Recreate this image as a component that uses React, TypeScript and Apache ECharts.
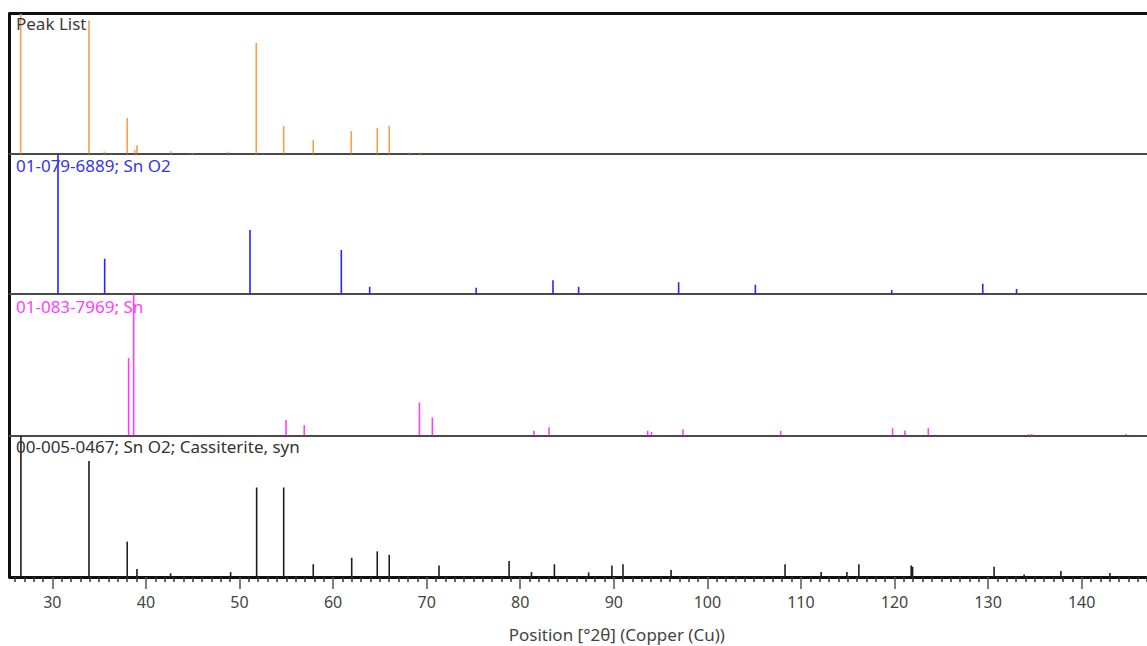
import React, { useEffect, useRef } from "react";
import * as echarts from "echarts";

const X_MIN = 25.44;
const X_MAX = 155.2;

const majorTicks = [30, 40, 50, 60, 70, 80, 90, 100, 110, 120, 130, 140];
const minorTicks: number[] = [];
for (let v = 26; v <= 155; v++) if (v % 10 !== 0) minorTicks.push(v);

const panelLabels = [
  "Peak List",
  "01-079-6889; Sn O2",
  "01-083-7969; Sn",
  "00-005-0467; Sn O2; Cassiterite, syn",
];

const peakPos = [26.61, 33.91, 35.55, 38.0, 38.8, 39.04, 42.64, 44.95, 48.8, 51.79, 54.72, 57.88, 61.94, 64.72, 66.0, 68.16, 69.34];
const peakInt = [100, 95, 1.5, 25.5, 2.6, 6, 1.8, 0.7, 1.4, 79, 19.8, 9.8, 16.2, 18.5, 20, 0.8, 0.8];

const sno2Pos = [30.6, 35.59, 51.12, 60.88, 63.91, 75.29, 83.5, 86.24, 96.93, 105.13, 119.7, 129.43, 133.04];
const sno2Int = [100, 25.3, 45.7, 31.5, 5.3, 4.6, 10, 5.3, 8.5, 6.8, 3, 7.5, 3.7];

const snPos = [38.15, 38.69, 54.97, 56.92, 69.23, 70.61, 81.46, 83.08, 93.62, 94.03, 97.39, 107.83, 119.79, 121.11, 123.61, 134.36, 134.66, 144.74];
const snInt = [54.9, 100, 11, 7.3, 23.4, 12.7, 3.3, 5.9, 3.3, 2.5, 4.2, 3.3, 5.2, 3.5, 5.2, 0.8, 1, 1];

const cassPos = [26.64, 33.91, 38.0, 39.04, 42.64, 49.05, 51.83, 54.72, 57.88, 61.99, 64.72, 66.0, 71.32, 78.81, 81.2, 83.65, 87.31, 89.8, 90.98, 96.12, 108.3, 112.16, 114.91, 116.19, 121.78, 121.93, 130.64, 133.85, 137.78, 143.02];
const cassInt = [100, 82, 25, 5.6, 2.6, 3.5, 63.3, 63.3, 9, 13.6, 18.1, 15.7, 8.2, 11.3, 3.5, 9, 3.3, 8.2, 9, 4.9, 9, 3.5, 3.5, 9, 8.2, 7.2, 7.2, 1.7, 4.2, 2.8];

const panels = [
  { pos: peakPos, val: peakInt, color: "#f5a04c", label: "#3a3a3a" },
  { pos: sno2Pos, val: sno2Int, color: "#2626ff", label: "#3434f0" },
  { pos: snPos, val: snInt, color: "#ff3dff", label: "#ff3dff" },
  { pos: cassPos, val: cassInt, color: "#1e1e1e", label: "#333333" },
];

const gridTops = [13.5, 153.7, 294.2, 435.5];
const gridHeights = [140.2, 140.5, 141.3, 141.5];
const GRID_LEFT = 9.7;
const GRID_WIDTH = 1214.2;
const FONT = '"Noto Sans", "Open Sans", sans-serif';

export default function App() {
  const ref = useRef<HTMLDivElement>(null);
  useEffect(() => {
    if (!ref.current) return;
    const chart = echarts.init(ref.current, undefined, { renderer: "svg" });

    const grids = gridTops.map((t, i) => ({
      left: GRID_LEFT,
      top: t,
      width: GRID_WIDTH,
      height: gridHeights[i],
      containLabel: false,
    }));

    const xAxes: any[] = panels.map((_, i) => ({
      type: "value",
      gridIndex: i,
      min: X_MIN,
      max: X_MAX,
      position: "bottom",
      axisLine: {
        show: true,
        lineStyle: i === 3 ? { color: "#111", width: 3 } : { color: "#4a4a4a", width: 2 },
      },
      axisTick: i === 3
        ? { show: true, customValues: majorTicks, length: 12, lineStyle: { color: "#555", width: 1.5 } }
        : { show: false },
      axisLabel: i === 3
        ? { show: true, customValues: majorTicks, color: "#444", fontSize: 16, fontFamily: FONT, margin: 17 }
        : { show: false },
      splitLine: { show: false },
      name: i === 3 ? "Position [°2θ] (Copper (Cu))" : "",
      nameLocation: "middle",
      nameGap: 49,
      nameTextStyle: { color: "#444", fontSize: 17, fontFamily: FONT },
    }));
    xAxes.push({
      type: "value",
      gridIndex: 3,
      min: X_MIN,
      max: X_MAX,
      position: "bottom",
      axisLine: { show: false },
      axisTick: { show: true, customValues: minorTicks, length: 5, lineStyle: { color: "#333", width: 1.5 } },
      axisLabel: { show: false },
      splitLine: { show: false },
    });
    xAxes.push({
      type: "value",
      gridIndex: 0,
      min: X_MIN,
      max: X_MAX,
      position: "top",
      axisLine: { show: true, lineStyle: { color: "#111", width: 3 } },
      axisTick: { show: false },
      axisLabel: { show: false },
      splitLine: { show: false },
    });

    const yAxes = panels.map((_, i) => ({
      type: "value",
      gridIndex: i,
      min: 0,
      max: 100,
      axisLine: { show: true, onZero: false, lineStyle: { color: "#111", width: 3 } },
      axisTick: { show: false },
      axisLabel: { show: false },
      splitLine: { show: false },
    }));

    const series = panels.map((p, i) => ({
      type: "custom",
      xAxisIndex: i,
      yAxisIndex: i,
      clip: true,
      z: 3,
      data: p.pos.map((x, k) => [x, p.val[k]]),
      renderItem: (_params: any, api: any) => {
        const x = api.value(0);
        const y = api.value(1);
        const a = api.coord([x, 0]);
        const b = api.coord([x, y]);
        return {
          type: "line",
          shape: { x1: a[0], y1: a[1], x2: b[0], y2: b[1] },
          style: { stroke: p.color, lineWidth: 1.6 },
        };
      },
    }));

    const labelY = [23.5, 165, 306.5, 446.5];
    const graphic = panelLabels.map((t, i) => ({
      type: "text",
      x: 16,
      y: labelY[i],
      z: 10,
      style: {
        text: t,
        fill: panels[i].label,
        fontSize: 17,
        fontFamily: FONT,
        verticalAlign: "middle",
        align: "left",
      },
    }));

    chart.setOption({
      animation: false,
      backgroundColor: "#ffffff",
      grid: grids,
      xAxis: xAxes,
      yAxis: yAxes,
      series,
      graphic,
    });
    return () => chart.dispose();
  }, []);

  return (
    <div
      style={{
        position: "fixed",
        left: 0,
        top: 0,
        width: 1147,
        height: 646,
        overflow: "hidden",
        background: "#fff",
      }}
    >
      <div ref={ref} style={{ width: 1240, height: 646 }} />
    </div>
  );
}
